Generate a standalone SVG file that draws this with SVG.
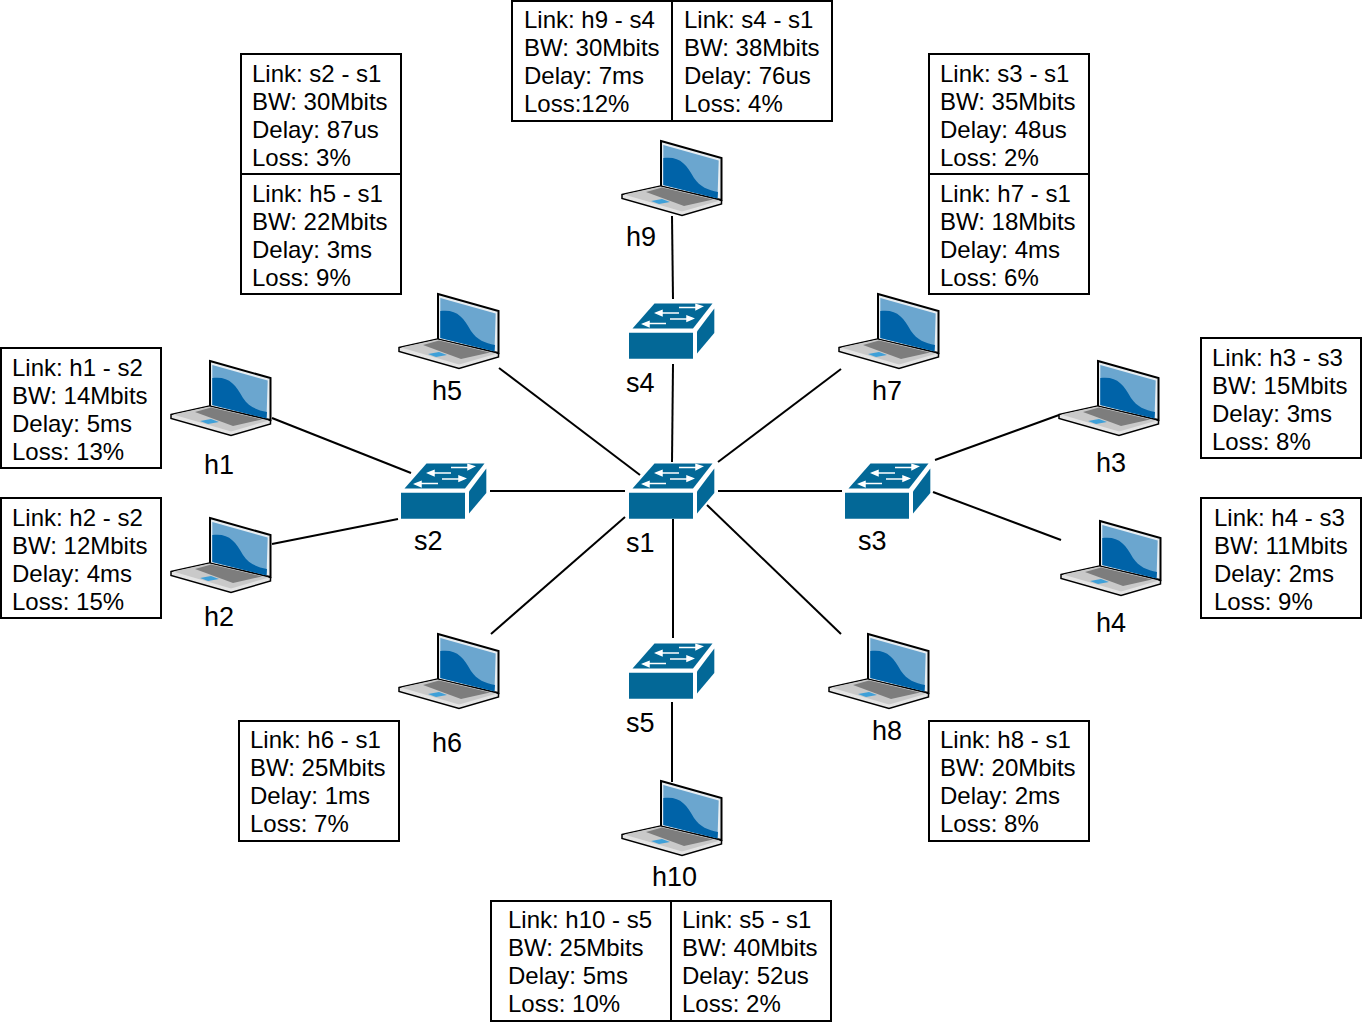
<svg xmlns="http://www.w3.org/2000/svg" xmlns:xlink="http://www.w3.org/1999/xlink" width="1362" height="1022" viewBox="0 0 1362 1022">
<style>
text{font-family:"Liberation Sans",Arial,sans-serif;font-size:24px;fill:#000}
.b{fill:#fff;stroke:#000;stroke-width:2}
.c line{stroke:#000;stroke-width:2}
.l{font-size:27px}
</style>
<defs>
<g id="laptop">
<path d="M51 11L111.500 28V70L51 57Z" fill="#e8eef2" stroke="#000" stroke-width="2"/>
<path d="M53.300 15L108.700 30.500L107.500 68.500L53.300 55Z" fill="#6ba6cf"/>
<path d="M53.300 28C70 26 76 34 84 48C90 57 98 60 108 62L107.500 68.500L53.300 55Z" fill="#0063a8"/>
<path d="M12 64.500L50.500 56L111.500 70.500V74L72 85.500L12 68.500Z" fill="#e4e4e4" stroke="#000" stroke-width="1.500"/>
<path d="M14 64.500L50.500 56.500L110 70.500L72 81.500Z" fill="#c9c9c9"/>
<path d="M36 62L52 57.500L103 69.500L74 76Z" fill="#7d7d7d"/>
<path d="M41 71L52 69L60 72L49 74Z" fill="#3fa0d8"/>
</g>
<g id="switch" fill="#036897">
<path d="M39.500 13.500H97.500L78 38.500H17.500Z"/>
<path d="M14 42.700H78V68.700H14Z"/>
<path d="M82 41.500L99.300 18.500V43L82 63.500Z"/>
<g stroke="#fff" stroke-width="1.500" fill="#fff">
<path d="M64 17.500H84" /><path d="M87 16.500L81 14.500V19.500Z"/>
<path d="M64 23H44"/><path d="M41 23L47 20.500V25.500Z"/>
<path d="M55 29H75"/><path d="M78 28.500L72 26V31Z"/>
<path d="M51 33.500H31"/><path d="M28 34L34 31.500V36.500Z"/>
</g>
</g>
</defs>
<g id="connectors" class="c">
<line x1="672" y1="216" x2="673" y2="299"/>
<line x1="673" y1="364" x2="672" y2="462"/>
<line x1="490" y1="491" x2="625" y2="491"/>
<line x1="718" y1="491" x2="842" y2="491"/>
<line x1="673" y1="519" x2="673" y2="638"/>
<line x1="672" y1="702" x2="672" y2="782"/>
<line x1="499" y1="368" x2="640" y2="475"/>
<line x1="841" y1="369" x2="718" y2="462"/>
<line x1="491" y1="634" x2="625" y2="517"/>
<line x1="707" y1="505" x2="841" y2="634"/>
<line x1="272" y1="418" x2="411" y2="473"/>
<line x1="272" y1="544" x2="398" y2="519"/>
<line x1="1059" y1="415" x2="935" y2="460"/>
<line x1="1061" y1="540" x2="933" y2="492"/>
</g>
<g id="s1"><use xlink:href="#switch" href="#switch" x="615" y="450"/><text class="l" x="626" y="552">s1</text></g>
<g id="s2"><use xlink:href="#switch" href="#switch" x="387" y="450"/><text class="l" x="414" y="550">s2</text></g>
<g id="s3"><use xlink:href="#switch" href="#switch" x="831" y="450"/><text class="l" x="858" y="550">s3</text></g>
<g id="s4"><use xlink:href="#switch" href="#switch" x="615" y="290"/><text class="l" x="626" y="392">s4</text></g>
<g id="s5"><use xlink:href="#switch" href="#switch" x="615" y="630"/><text class="l" x="626" y="732">s5</text></g>
<g id="h1"><use xlink:href="#laptop" href="#laptop" x="159" y="350"/><text class="l" x="204" y="474">h1</text></g>
<g id="h2"><use xlink:href="#laptop" href="#laptop" x="159" y="507"/><text class="l" x="204" y="626">h2</text></g>
<g id="h3"><use xlink:href="#laptop" href="#laptop" x="1047" y="350"/><text class="l" x="1096" y="472">h3</text></g>
<g id="h4"><use xlink:href="#laptop" href="#laptop" x="1049" y="510"/><text class="l" x="1096" y="632">h4</text></g>
<g id="h5"><use xlink:href="#laptop" href="#laptop" x="387" y="283"/><text class="l" x="432" y="400">h5</text></g>
<g id="h6"><use xlink:href="#laptop" href="#laptop" x="387" y="623"/><text class="l" x="432" y="752">h6</text></g>
<g id="h7"><use xlink:href="#laptop" href="#laptop" x="827" y="283"/><text class="l" x="872" y="400">h7</text></g>
<g id="h8"><use xlink:href="#laptop" href="#laptop" x="817" y="623"/><text class="l" x="872" y="740">h8</text></g>
<g id="h9"><use xlink:href="#laptop" href="#laptop" x="610" y="130"/><text class="l" x="626" y="246">h9</text></g>
<g id="h10"><use xlink:href="#laptop" href="#laptop" x="610" y="770"/><text class="l" x="652" y="886">h10</text></g>
<g id="box-h9-s4"><rect class="b" x="512" y="1" width="160" height="120"/><text x="524" y="28">Link: h9 - s4</text><text x="524" y="56">BW: 30Mbits</text><text x="524" y="84">Delay: 7ms</text><text x="524" y="112">Loss:12%</text></g>
<g id="box-s4-s1"><rect class="b" x="672" y="1" width="160" height="120"/><text x="684" y="28">Link: s4 - s1</text><text x="684" y="56">BW: 38Mbits</text><text x="684" y="84">Delay: 76us</text><text x="684" y="112">Loss: 4%</text></g>
<g id="box-s2-s1"><rect class="b" x="241" y="54" width="160" height="120"/><text x="252" y="82">Link: s2 - s1</text><text x="252" y="110">BW: 30Mbits</text><text x="252" y="138">Delay: 87us</text><text x="252" y="166">Loss: 3%</text></g>
<g id="box-h5-s1"><rect class="b" x="241" y="174" width="160" height="120"/><text x="252" y="202">Link: h5 - s1</text><text x="252" y="230">BW: 22Mbits</text><text x="252" y="258">Delay: 3ms</text><text x="252" y="286">Loss: 9%</text></g>
<g id="box-s3-s1"><rect class="b" x="929" y="54" width="160" height="120"/><text x="940" y="82">Link: s3 - s1</text><text x="940" y="110">BW: 35Mbits</text><text x="940" y="138">Delay: 48us</text><text x="940" y="166">Loss: 2%</text></g>
<g id="box-h7-s1"><rect class="b" x="929" y="174" width="160" height="120"/><text x="940" y="202">Link: h7 - s1</text><text x="940" y="230">BW: 18Mbits</text><text x="940" y="258">Delay: 4ms</text><text x="940" y="286">Loss: 6%</text></g>
<g id="box-h1-s2"><rect class="b" x="1" y="348" width="160" height="120"/><text x="12" y="376">Link: h1 - s2</text><text x="12" y="404">BW: 14Mbits</text><text x="12" y="432">Delay: 5ms</text><text x="12" y="460">Loss: 13%</text></g>
<g id="box-h2-s2"><rect class="b" x="1" y="498" width="160" height="120"/><text x="12" y="526">Link: h2 - s2</text><text x="12" y="554">BW: 12Mbits</text><text x="12" y="582">Delay: 4ms</text><text x="12" y="610">Loss: 15%</text></g>
<g id="box-h3-s3"><rect class="b" x="1201" y="338" width="160" height="120"/><text x="1212" y="366">Link: h3 - s3</text><text x="1212" y="394">BW: 15Mbits</text><text x="1212" y="422">Delay: 3ms</text><text x="1212" y="450">Loss: 8%</text></g>
<g id="box-h4-s3"><rect class="b" x="1201" y="498" width="160" height="120"/><text x="1214" y="526">Link: h4 - s3</text><text x="1214" y="554">BW: 11Mbits</text><text x="1214" y="582">Delay: 2ms</text><text x="1214" y="610">Loss: 9%</text></g>
<g id="box-h6-s1"><rect class="b" x="239" y="721" width="160" height="120"/><text x="250" y="748">Link: h6 - s1</text><text x="250" y="776">BW: 25Mbits</text><text x="250" y="804">Delay: 1ms</text><text x="250" y="832">Loss: 7%</text></g>
<g id="box-h8-s1"><rect class="b" x="929" y="721" width="160" height="120"/><text x="940" y="748">Link: h8 - s1</text><text x="940" y="776">BW: 20Mbits</text><text x="940" y="804">Delay: 2ms</text><text x="940" y="832">Loss: 8%</text></g>
<g id="box-h10-s5"><rect class="b" x="491" y="901" width="180" height="120"/><text x="508" y="928">Link: h10 - s5</text><text x="508" y="956">BW: 25Mbits</text><text x="508" y="984">Delay: 5ms</text><text x="508" y="1012">Loss: 10%</text></g>
<g id="box-s5-s1"><rect class="b" x="671" y="901" width="160" height="120"/><text x="682" y="928">Link: s5 - s1</text><text x="682" y="956">BW: 40Mbits</text><text x="682" y="984">Delay: 52us</text><text x="682" y="1012">Loss: 2%</text></g>
</svg>
